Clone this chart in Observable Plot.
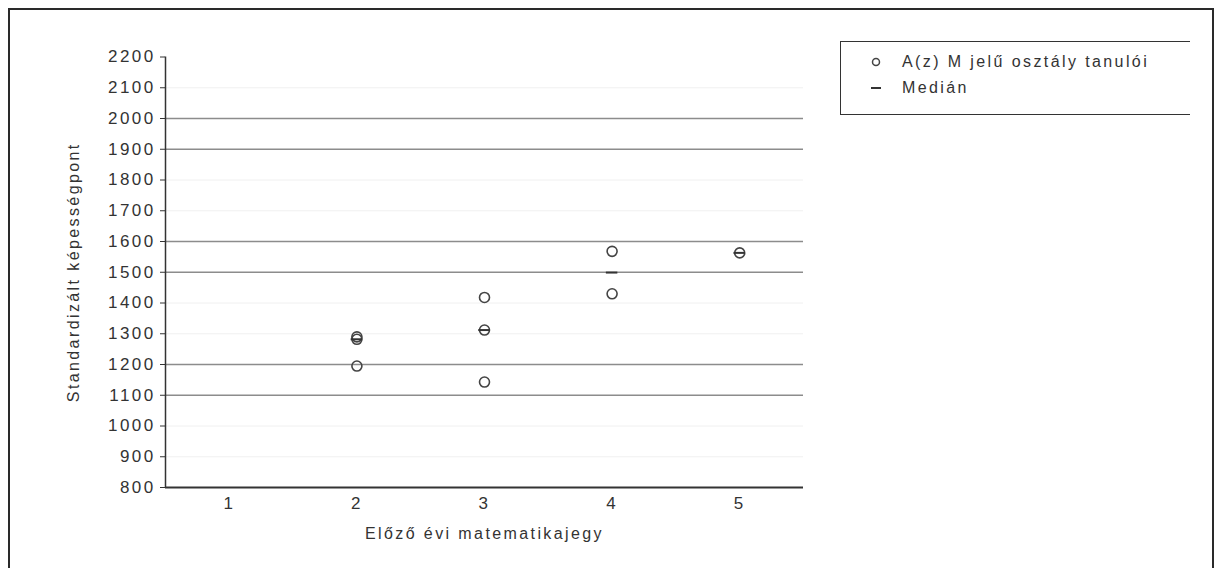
<!DOCTYPE html>
<html>
<head>
<meta charset="utf-8">
<script src="https://cdn.jsdelivr.net/npm/d3@7"></script>
<script src="https://cdn.jsdelivr.net/npm/@observablehq/plot@0.6"></script>
<style>
  html, body { margin: 0; padding: 0; background: #fff; overflow: hidden; }
  #wrap { position: relative; width: 1224px; height: 568px; font-family: "Liberation Sans", Arial, sans-serif; }
  #frame { position: absolute; left: 8px; top: 8px; width: 1206px; height: 620px; border: 2px solid #2a2a2a; box-sizing: border-box; pointer-events: none; }
  #legend { position: absolute; left: 840px; top: 41px; width: 350px; height: 74px; border-top: 1.5px solid #333; border-left: 1.5px solid #333; border-bottom: 1.5px solid #333; box-sizing: border-box; color: #333; font-size: 16px; letter-spacing: 2.4px; }
  .row { position: absolute; left: 0; height: 20px; line-height: 20px; }
  .sym { position: absolute; left: 29px; width: 12px; height: 20px; }
  .lab { position: absolute; left: 61px; white-space: nowrap; }
</style>
</head>
<body>
<div id="wrap">
  <div id="chart"></div>
  <div id="frame"></div>
  <div id="legend"></div>
</div>
<script>
// Data
const grades = [2, 2, 2, 3, 3, 3, 4, 4, 5];
const scores = [1290, 1282, 1195, 1418, 1312, 1143, 1568, 1430, 1563];
const gradeTicks = [1, 2, 3, 4, 5];
const scoreTicks = [800, 900, 1000, 1100, 1200, 1300, 1400, 1500, 1600, 1700, 1800, 1900, 2000, 2100, 2200];
const darkLines = [2000, 1900, 1600, 1500, 1200, 1100];
const faintLines = [2100, 1800, 1700, 1400, 1300, 1000, 900];
const seriesLabels = ["A(z) M jelű osztály tanulói", "Medián"];
const xTitle = "Előző évi matematikajegy";
const yTitle = "Standardizált képességpont";

const points = grades.map((g, i) => ({grade: g, score: scores[i]}));
const medians = d3.rollups(points, v => d3.median(v, d => d.score), d => d.grade)
  .map(([grade, score]) => ({grade, score}));

const ink = "#333";
const chart = Plot.plot({
  width: 1224,
  height: 568,
  marginLeft: 165,
  marginRight: 421,
  marginTop: 56.5,
  marginBottom: 81,
  style: {fontFamily: "'Liberation Sans', Arial, sans-serif", fontSize: "16px", color: ink, letterSpacing: "2.4px", background: "transparent"},
  x: {type: "linear", domain: [0.5, 5.5]},
  y: {domain: [800, 2200]},
  marks: [
    Plot.ruleY(faintLines, {stroke: "#f0f0f0", strokeWidth: 1}),
    Plot.ruleY(darkLines, {stroke: "#8c8c8c", strokeWidth: 1.3}),
    Plot.axisY({ticks: scoreTicks, tickFormat: "d", tickSize: 5, tickPadding: 5, stroke: ink, label: null, fill: ink, fontSize: 17}),
    Plot.axisX({ticks: gradeTicks, tickFormat: "d", tickSize: 0, tickPadding: 9, label: null, fill: ink, fontSize: 17}),
    Plot.ruleX([0.5], {stroke: ink, strokeWidth: 1.5}),
    Plot.ruleY([800], {stroke: ink, strokeWidth: 1.8}),
    Plot.dot(points, {x: "grade", y: "score", r: 5, stroke: "#444", strokeWidth: 1.6, fill: "none"}),
    Plot.ruleY(medians, {y: "score", x1: d => d.grade - 0.045, x2: d => d.grade + 0.045, stroke: "#333", strokeWidth: 2}),
    Plot.text([yTitle], {frameAnchor: "left", textAnchor: "middle", rotate: -90, dx: -92, fontSize: 16, fill: ink}),
    Plot.text([xTitle], {frameAnchor: "bottom", textAnchor: "middle", dy: 51, fontSize: 16, fill: ink})
  ]
});
document.getElementById("chart").appendChild(chart);

// Legend
const legend = document.getElementById("legend");
seriesLabels.forEach((t, i) => {
  const row = document.createElement("div");
  row.className = "row";
  row.style.top = (10 + i * 26) + "px";
  row.style.width = "340px";
  const sym = document.createElementNS("http://www.w3.org/2000/svg", "svg");
  sym.setAttribute("class", "sym");
  sym.setAttribute("width", 12);
  sym.setAttribute("height", 20);
  if (i === 0) {
    const c = document.createElementNS("http://www.w3.org/2000/svg", "circle");
    c.setAttribute("cx", 6); c.setAttribute("cy", 10); c.setAttribute("r", 3.5);
    c.setAttribute("fill", "none"); c.setAttribute("stroke", "#444"); c.setAttribute("stroke-width", 1.5);
    sym.appendChild(c);
  } else {
    const l = document.createElementNS("http://www.w3.org/2000/svg", "line");
    l.setAttribute("x1", 1); l.setAttribute("x2", 11); l.setAttribute("y1", 10); l.setAttribute("y2", 10);
    l.setAttribute("stroke", "#333"); l.setAttribute("stroke-width", 2);
    sym.appendChild(l);
  }
  row.appendChild(sym);
  const lab = document.createElement("span");
  lab.className = "lab";
  lab.textContent = t;
  row.appendChild(lab);
  legend.appendChild(row);
});
</script>
</body>
</html>
